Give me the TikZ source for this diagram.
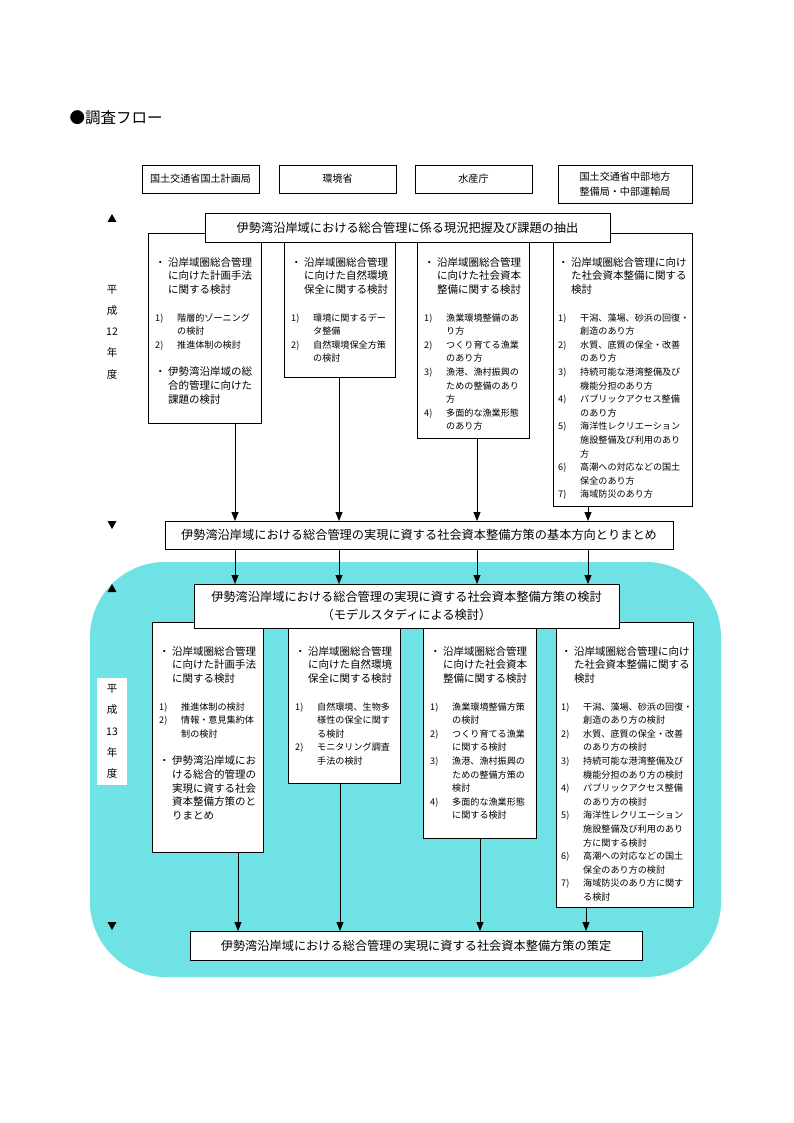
\documentclass[tikz,border=0pt]{standalone}
\usepackage{fontspec}
\setmainfont{Noto Sans CJK JP}
\usetikzlibrary{arrows.meta}

\definecolor{seacyan}{RGB}{110,226,228}

% fonts for the panels
\newcommand\hf{\fontsize{10.5}{13.6}\selectfont}
\newcommand\lf{\fontsize{9.1}{13.6}\selectfont}
% heading lines and list lines
\newcommand\hA[1]{{\hf\makebox[13pt][l]{・}#1}}
\newcommand\hB[1]{{\hf\hspace*{13pt}#1}}
\newcommand\iA[2]{{\lf\makebox[22pt][l]{#1}#2}}
\newcommand\iB[1]{{\lf\hspace*{22pt}#1}}

\tikzset{
  panel/.style={draw, fill=white, line width=0.8pt, anchor=north west,
    inner sep=0pt, outer sep=0pt},
  body/.style={anchor=north west, inner sep=0pt, font=\lf},
  org/.style={panel, align=center, font=\fontsize{10.1}{15}\selectfont},
  stage/.style={panel, align=center, font=\fontsize{12.2}{18}\selectfont},
  flow/.style={line width=0.8pt, -{Triangle[width=7pt,length=9pt]}},
  yearlbl/.style={align=center, inner sep=0pt, font=\fontsize{10.5}{21.3}\selectfont}
}

\begin{document}
\begin{tikzpicture}[x=1pt, y=-1pt]
    \useasboundingbox (0,0) rectangle (794,1123);

    \node[anchor=west, font=\fontsize{15.5}{18}\selectfont] (title) at (66,118) {●調査フロー};

    % ministries
    \node[org, minimum width=117, minimum height=28] (o1) at (142,165) {国土交通省国土計画局};
    \node[org, minimum width=117, minimum height=28] (o2) at (279,165) {環境省};
    \node[org, minimum width=117, minimum height=28] (o3) at (415,165) {水産庁};
    \node[org, minimum width=134, minimum height=38] (o4) at (558,165) {国土交通省中部地方\\整備局・中部運輸局};

    % ---- H12 ----
    \fill (107.5,222) -- (116.5,222) -- (112,214) -- cycle;
    \fill (107.5,521) -- (116.5,521) -- (112,529) -- cycle;
    \node[yearlbl] (yr12) at (112,332) {平\\成\\12\\年\\度};

    \node[panel, minimum width=113, minimum height=190] (u1) at (148,233) {};
    \node[body] at ([shift={(7,23.5)}]u1.north west) {\begin{tabular}{@{}l@{}}
      \hA{沿岸域圏総合管理}\\ \hB{に向けた計画手法}\\ \hB{に関する検討}\\[14pt]
      \iA{1)}{階層的ゾーニング}\\ \iB{の検討}\\ \iA{2)}{推進体制の検討}\\[14pt]
      \hA{伊勢湾沿岸域の総}\\ \hB{合的管理に向けた}\\ \hB{課題の検討}
    \end{tabular}};

    \node[panel, minimum width=111, minimum height=144] (u2) at (284,233) {};
    \node[body] at ([shift={(7,23.5)}]u2.north west) {\begin{tabular}{@{}l@{}}
      \hA{沿岸域圏総合管理}\\ \hB{に向けた自然環境}\\ \hB{保全に関する検討}\\[14pt]
      \iA{1)}{環境に関するデー}\\ \iB{タ整備}\\ \iA{2)}{自然環境保全方策}\\ \iB{の検討}
    \end{tabular}};

    \node[panel, minimum width=112, minimum height=205] (u3) at (417,233) {};
    \node[body] at ([shift={(7,23.5)}]u3.north west) {\begin{tabular}{@{}l@{}}
      \hA{沿岸域圏総合管理}\\ \hB{に向けた社会資本}\\ \hB{整備に関する検討}\\[14pt]
      \iA{1)}{漁業環境整備のあ}\\ \iB{り方}\\ \iA{2)}{つくり育てる漁業}\\ \iB{のあり方}\\
      \iA{3)}{漁港、漁村振興の}\\ \iB{ための整備のあり}\\ \iB{方}\\
      \iA{4)}{多面的な漁業形態}\\ \iB{のあり方}
    \end{tabular}};

    \node[panel, minimum width=139, minimum height=273] (u4) at (553,233) {};
    \node[body] at ([shift={(5,23.5)}]u4.north west) {\begin{tabular}{@{}l@{}}
      \hA{沿岸域圏総合管理に向け}\\ \hB{た社会資本整備に関する}\\ \hB{検討}\\[14pt]
      \iA{1)}{干潟、藻場、砂浜の回復・}\\ \iB{創造のあり方}\\
      \iA{2)}{水質、底質の保全・改善}\\ \iB{のあり方}\\
      \iA{3)}{持続可能な港湾整備及び}\\ \iB{機能分担のあり方}\\
      \iA{4)}{パブリックアクセス整備}\\ \iB{のあり方}\\
      \iA{5)}{海洋性レクリエーション}\\ \iB{施設整備及び利用のあり}\\ \iB{方}\\
      \iA{6)}{高潮への対応などの国土}\\ \iB{保全のあり方}\\
      \iA{7)}{海域防災のあり方}
    \end{tabular}};

    \node[stage, minimum width=405, minimum height=29] (s1) at (205,213)
      {伊勢湾沿岸域における総合管理に係る現況把握及び課題の抽出};
    \node[stage, minimum width=508, minimum height=28] (s2) at (165,521)
      {伊勢湾沿岸域における総合管理の実現に資する社会資本整備方策の基本方向とりまとめ};

    % ---- H13 ----
    \fill[seacyan, rounded corners=75] (90,562) rectangle (721,977);
    \fill (107.5,592) -- (116.5,592) -- (112,584) -- cycle;
    \fill (107.5,922) -- (116.5,922) -- (112,930) -- cycle;
    \node[yearlbl, fill=white, minimum width=30, minimum height=107] (yr13) at (112,731.5) {平\\成\\13\\年\\度};

    \node[panel, minimum width=111, minimum height=230] (l1) at (152,622) {};
    \node[body] at ([shift={(7,23.5)}]l1.north west) {\begin{tabular}{@{}l@{}}
      \hA{沿岸域圏総合管理}\\ \hB{に向けた計画手法}\\ \hB{に関する検討}\\[14pt]
      \iA{1)}{推進体制の検討}\\ \iA{2)}{情報・意見集約体}\\ \iB{制の検討}\\[14pt]
      \hA{伊勢湾沿岸域にお}\\ \hB{ける総合的管理の}\\ \hB{実現に資する社会}\\ \hB{資本整備方策のと}\\ \hB{りまとめ}
    \end{tabular}};

    \node[panel, minimum width=112, minimum height=161] (l2) at (288,622) {};
    \node[body] at ([shift={(7,23.5)}]l2.north west) {\begin{tabular}{@{}l@{}}
      \hA{沿岸域圏総合管理}\\ \hB{に向けた自然環境}\\ \hB{保全に関する検討}\\[14pt]
      \iA{1)}{自然環境、生物多}\\ \iB{様性の保全に関す}\\ \iB{る検討}\\
      \iA{2)}{モニタリング調査}\\ \iB{手法の検討}
    \end{tabular}};

    \node[panel, minimum width=113, minimum height=216] (l3) at (423,622) {};
    \node[body] at ([shift={(7,23.5)}]l3.north west) {\begin{tabular}{@{}l@{}}
      \hA{沿岸域圏総合管理}\\ \hB{に向けた社会資本}\\ \hB{整備に関する検討}\\[14pt]
      \iA{1)}{漁業環境整備方策}\\ \iB{の検討}\\ \iA{2)}{つくり育てる漁業}\\ \iB{に関する検討}\\
      \iA{3)}{漁港、漁村振興の}\\ \iB{ための整備方策の}\\ \iB{検討}\\
      \iA{4)}{多面的な漁業形態}\\ \iB{に関する検討}
    \end{tabular}};

    \node[panel, minimum width=137, minimum height=285] (l4) at (556,622) {};
    \node[body] at ([shift={(5,23.5)}]l4.north west) {\begin{tabular}{@{}l@{}}
      \hA{沿岸域圏総合管理に向け}\\ \hB{た社会資本整備に関する}\\ \hB{検討}\\[14pt]
      \iA{1)}{干潟、藻場、砂浜の回復・}\\ \iB{創造のあり方の検討}\\
      \iA{2)}{水質、底質の保全・改善}\\ \iB{のあり方の検討}\\
      \iA{3)}{持続可能な港湾整備及び}\\ \iB{機能分担のあり方の検討}\\
      \iA{4)}{パブリックアクセス整備}\\ \iB{のあり方の検討}\\
      \iA{5)}{海洋性レクリエーション}\\ \iB{施設整備及び利用のあり}\\ \iB{方に関する検討}\\
      \iA{6)}{高潮への対応などの国土}\\ \iB{保全のあり方の検討}\\
      \iA{7)}{海域防災のあり方に関す}\\ \iB{る検討}
    \end{tabular}};

    \node[stage, minimum width=425, minimum height=44] (s3) at (194,584)
      {伊勢湾沿岸域における総合管理の実現に資する社会資本整備方策の検討\\（モデルスタディによる検討）};
    \node[stage, minimum width=452, minimum height=29] (s4) at (190,931)
      {伊勢湾沿岸域における総合管理の実現に資する社会資本整備方策の策定};

    % connectors
    \foreach \i/\x in {1/235, 2/339, 3/477, 4/588} {
      \coordinate (a\i) at (\x,0);
      \draw[flow] (u\i.south -| a\i) -- (s2.north -| a\i);
      \draw[flow] (s2.south -| a\i) -- (s3.north -| a\i);
    }
    \foreach \i/\x in {1/238, 2/340, 3/480, 4/586} {
      \coordinate (b\i) at (\x,0);
      \draw[flow] (l\i.south -| b\i) -- (s4.north -| b\i);
    }

  \end{tikzpicture}
\end{document}
